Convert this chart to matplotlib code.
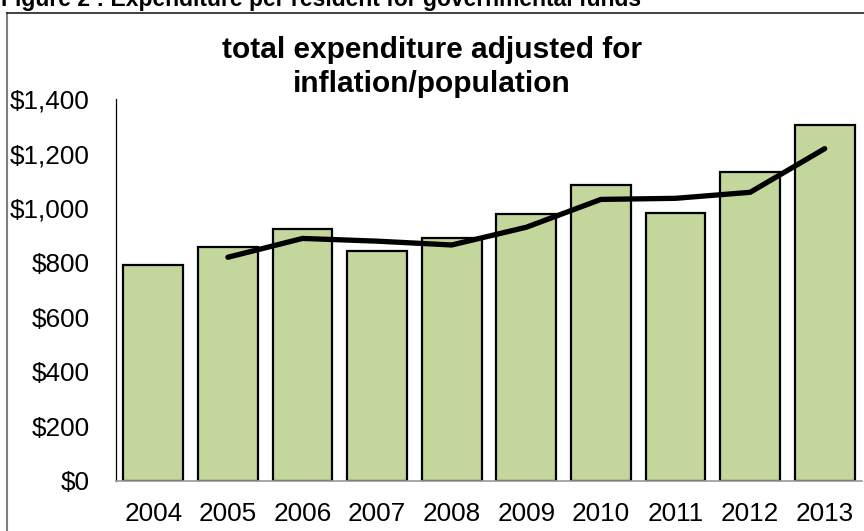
import matplotlib
matplotlib.use("Agg")
import matplotlib.pyplot as plt
from matplotlib.lines import Line2D
from matplotlib.ticker import FuncFormatter

years = ["2004", "2005", "2006", "2007", "2008", "2009", "2010", "2011", "2012", "2013"]
expenditure = [790, 857, 922, 842, 889, 978, 1084, 982, 1132, 1304]
trend_years = ["2005", "2006", "2007", "2008", "2009", "2010", "2011", "2012", "2013"]
trend = [820, 889, 879, 865, 930, 1032, 1036, 1058, 1218]

plt.rcParams['font.family'] = ['Liberation Sans', 'DejaVu Sans']

W, H = 864, 531
fig = plt.figure(figsize=(W / 100, H / 100), dpi=100)

ax = fig.add_axes([116 / W, 1 - 481 / H, (862 - 116) / W, (481 - 99) / H])
x = list(range(len(years)))
ax.bar(x, expenditure, width=0.8, color="#C3D69B", edgecolor="black", linewidth=1.6, zorder=2)
tx = [years.index(y) for y in trend_years]
ax.plot(tx, trend, color="black", linewidth=3.8, solid_capstyle="round", solid_joinstyle="round", zorder=3)

ax.set_xlim(-0.5, len(years) - 0.5)
ax.set_ylim(0, 1400)
ax.set_yticks(range(0, 1401, 200))
ax.yaxis.set_major_formatter(FuncFormatter(lambda v, p: "${:,.0f}".format(v)))
ax.set_xticks(x)
ax.set_xticklabels(years)
ax.tick_params(axis="y", length=0, pad=19, labelsize=18.8)
ax.tick_params(axis="x", length=0, pad=15, labelsize=18.8)
for s in ["top", "right"]:
    ax.spines[s].set_visible(False)
ax.spines["left"].set_color("black")
ax.spines["left"].set_linewidth(0.9)
ax.spines["bottom"].set_color("#9a9a9a")
ax.spines["bottom"].set_linewidth(1.2)
ax.set_facecolor("none")

fig.text(0.5, 1 - 58 / H, "total expenditure adjusted for",
         ha="center", va="baseline", fontsize=21.5, fontweight="bold")
fig.text(0.5, 1 - 92 / H, "inflation/population",
         ha="center", va="baseline", fontsize=21.5, fontweight="bold")

fig.text(1 / W, 1 - 6 / H, "Figure 2 : Expenditure per resident for governmental funds",
         ha="left", va="baseline", fontsize=16.5, fontweight="bold")

fig.add_artist(Line2D([7 / W, 7 / W], [0, 1 - 13 / H], transform=fig.transFigure,
                      color="#7f7f7f", linewidth=1.5))
fig.add_artist(Line2D([7 / W, 1], [1 - 13 / H, 1 - 13 / H], transform=fig.transFigure,
                      color="#202020", linewidth=1.2))

fig.savefig("out.png", dpi=100)
